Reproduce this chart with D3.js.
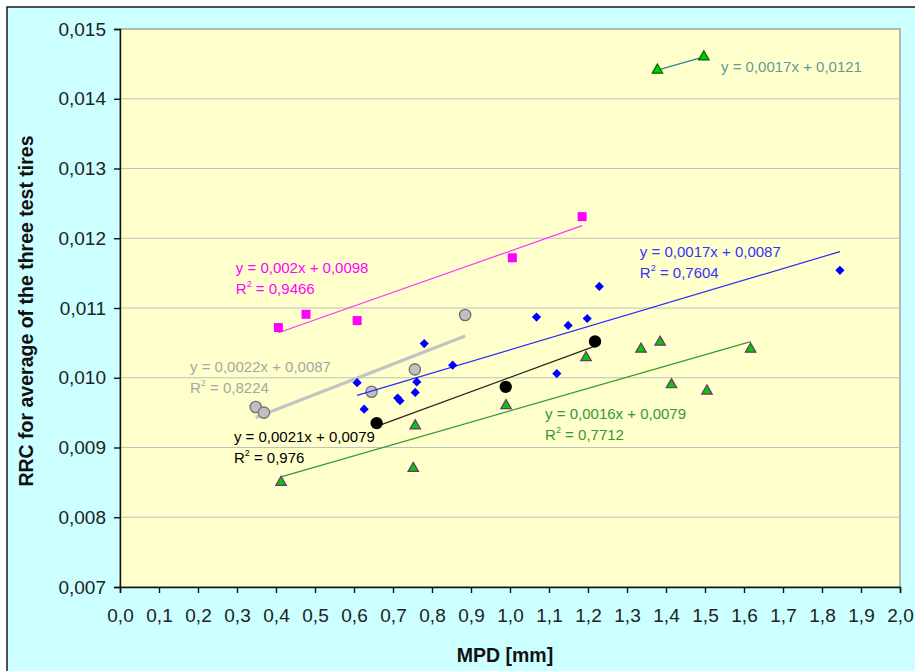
<!DOCTYPE html>
<html>
<head>
<meta charset="utf-8">
<script src="https://cdn.jsdelivr.net/npm/d3@7"></script>
<style>
	body { margin: 0; background: #fff; }
	svg { display: block; font-family: Arial, "Liberation Sans", sans-serif; }
</style>
</head>
<body>
<svg id="chart" width="915" height="671"></svg>
<script>
// MPD [mm] vs RRC
const pinkX  = [0.406, 0.477, 0.608, 1.006, 1.185];
const pinkY  = [0.01072, 0.01091, 0.01082, 0.01172, 0.01231];

const blueX  = [0.608, 0.626, 0.712, 0.718, 0.757, 0.761, 0.780, 0.853, 1.068, 1.120, 1.149, 1.198, 1.229, 1.846];
const blueY  = [0.00993, 0.00955, 0.00971, 0.00967, 0.00979, 0.00994, 0.01049, 0.01018, 0.01087, 0.01006, 0.01075, 0.01085, 0.01131, 0.01154];

const grayX  = [0.348, 0.369, 0.645, 0.756, 0.885];
const grayY  = [0.00958, 0.00950, 0.00980, 0.01012, 0.01090];

const blackX = [0.658, 0.989, 1.218];
const blackY = [0.00935, 0.00987, 0.01052];

const greenX = [0.413, 0.752, 0.757, 0.990, 1.195, 1.336, 1.385, 1.414, 1.505, 1.617];
const greenY = [0.00850, 0.00870, 0.00931, 0.00960, 0.01029, 0.01041, 0.01051, 0.00990, 0.00981, 0.01041];

const topX   = [1.378, 1.497];
const topY   = [0.01441, 0.01460];

const xTicks = d3.range(0, 21).map(i => i / 10);
const yTicks = d3.range(7, 16).map(i => i / 1000);
const fmtX = v => d3.format(".1f")(v).replace(".", ",");
const fmtY = v => d3.format(".3f")(v).replace(".", ",");

// equation labels as printed: [line1, r2 value, anchor x, anchor y]
const pinkEq  = ["y = 0,002x + 0,0098", "0,9466", 0.297, 0.01150];
const blueEq  = ["y = 0,0017x + 0,0087", "0,7604", 1.333, 0.01173];
const grayEq  = ["y = 0,0022x + 0,0087", "0,8224", 0.1795, 0.01008];
const blackEq = ["y = 0,0021x + 0,0079", "0,976", 0.292, 0.00908];
const greenEq = ["y = 0,0016x + 0,0079", "0,7712", 1.090, 0.00941];
const topEq   = ["y = 0,0017x + 0,0121", null, 1.541, 0.01439];

const svg = d3.select("#chart");
const W = 915, H = 671;
const margin = {left: 120, top: 29, right: 15, bottom: 84};

// outer frame (only top and left edges show)
svg.append("rect").attr("x", 7).attr("y", 7).attr("width", W - 7).attr("height", H - 7)
	.attr("fill", "#ccffff");
svg.append("path").attr("d", `M7,${H} V7 H${W}`)
	.attr("fill", "none").attr("stroke", "#1a1a1a").attr("stroke-width", 1.5);

const x = d3.scaleLinear().domain([0, 2]).range([margin.left, W - margin.right]);
const y = d3.scaleLinear().domain([0.007, 0.015]).range([H - margin.bottom, margin.top]);

svg.append("rect")
	.attr("x", x(0)).attr("y", y(0.015))
	.attr("width", x(2) - x(0)).attr("height", y(0.007) - y(0.015))
	.attr("fill", "#ffffcc").attr("stroke", "#8c8c8c").attr("stroke-width", 1.2);

// grid
svg.append("g").selectAll("line").data(yTicks.slice(1, -1)).join("line")
	.attr("x1", x(0)).attr("x2", x(2))
	.attr("y1", d => y(d)).attr("y2", d => y(d))
	.attr("stroke", "#c0c0c0").attr("stroke-width", 1.2);

// axes
const xAxis = svg.append("g").attr("transform", `translate(0,${y(0.007)})`)
	.call(d3.axisBottom(x).tickValues(xTicks).tickFormat(fmtX).tickSize(6).tickPadding(16));
const yAxis = svg.append("g").attr("transform", `translate(${x(0)},0)`)
	.call(d3.axisLeft(y).tickValues(yTicks).tickFormat(fmtY).tickSize(6).tickPadding(8));
[xAxis, yAxis].forEach(g => {
	g.selectAll("path, line").attr("stroke", "#111").attr("stroke-width", 1.4);
	g.selectAll("text").attr("font-size", 19).attr("fill", "#222")
		.attr("font-family", "Arial, 'Liberation Sans', sans-serif");
});

svg.append("text")
	.attr("x", 505).attr("y", 662)
	.attr("text-anchor", "middle").attr("font-weight", "bold").attr("font-size", 19.5)
	.attr("fill", "#111").text("MPD [mm]");
svg.append("text")
	.attr("transform", "translate(33,311) rotate(-90)")
	.attr("text-anchor", "middle").attr("font-weight", "bold").attr("font-size", 19.5)
	.attr("fill", "#111").text("RRC for average of the three test tires");

// least squares trend line over the data range
function trend(xs, ys) {
	const mx = d3.mean(xs), my = d3.mean(ys);
	let sxy = 0, sxx = 0;
	xs.forEach((v, i) => { sxy += (v - mx) * (ys[i] - my); sxx += (v - mx) ** 2; });
	const b = sxy / sxx, a = my - b * mx;
	const [x0, x1] = d3.extent(xs);
	return [[x0, a + b * x0], [x1, a + b * x1]];
}

const line = d3.line().x(d => x(d[0])).y(d => y(d[1]));

function drawSeries(xs, ys, opt) {
	const g = svg.append("g");
	g.append("path").attr("d", line(trend(xs, ys)))
		.attr("fill", "none").attr("stroke", opt.lineColor).attr("stroke-width", opt.lineWidth || 1.2);
	const pts = xs.map((v, i) => [v, ys[i]]);
	g.selectAll("path.pt").data(pts).join("path").attr("class", "pt")
		.attr("d", d3.symbol().type(opt.symbol).size(opt.size))
		.attr("transform", d => `translate(${x(d[0])},${y(d[1])})` + (opt.rotate ? " rotate(45)" : ""))
		.attr("fill", opt.fill).attr("stroke", opt.stroke || "none").attr("stroke-width", opt.strokeWidth || 1);
}

function drawEq(eq, color) {
	const t = svg.append("text").attr("font-size", 15).attr("fill", color);
	t.append("tspan").attr("x", x(eq[2])).attr("y", y(eq[3])).text(eq[0]);
	if (eq[1]) {
		const t2 = svg.append("text").attr("font-size", 15).attr("fill", color)
			.attr("x", x(eq[2])).attr("y", y(eq[3]) + 21);
		t2.append("tspan").text("R");
		t2.append("tspan").attr("font-size", 9).attr("dy", -7).text("2");
		t2.append("tspan").attr("dy", 7).text(" = " + eq[1]);
	}
}

drawSeries(grayX, grayY, {lineColor: "#c3c3c3", lineWidth: 3.2, symbol: d3.symbolCircle, size: 100,
	fill: "#c0c0c0", stroke: "#707070", strokeWidth: 1.3});
drawSeries(pinkX, pinkY, {lineColor: "#ff33ff", symbol: d3.symbolSquare, size: 81, fill: "#ff00ff"});
drawSeries(blueX, blueY, {lineColor: "#2a2aff", symbol: d3.symbolSquare, size: 42, rotate: true, fill: "#0000ff"});
drawSeries(blackX, blackY, {lineColor: "#222", symbol: d3.symbolCircle, size: 120, fill: "#000"});
drawSeries(greenX, greenY, {lineColor: "#339933", symbol: d3.symbolTriangle, size: 48,
	fill: "#00cc00", stroke: "#7a2a7a", strokeWidth: 1.2});
drawSeries(topX, topY, {lineColor: "#3a8080", symbol: d3.symbolTriangle, size: 48,
	fill: "#00cc00", stroke: "#006600", strokeWidth: 1.2});

drawEq(pinkEq, "#ff00ff");
drawEq(blueEq, "#3333ff");
drawEq(grayEq, "#a6a6a6");
drawEq(blackEq, "#000");
drawEq(greenEq, "#339933");
drawEq(topEq, "#669999");
</script>
</body>
</html>
